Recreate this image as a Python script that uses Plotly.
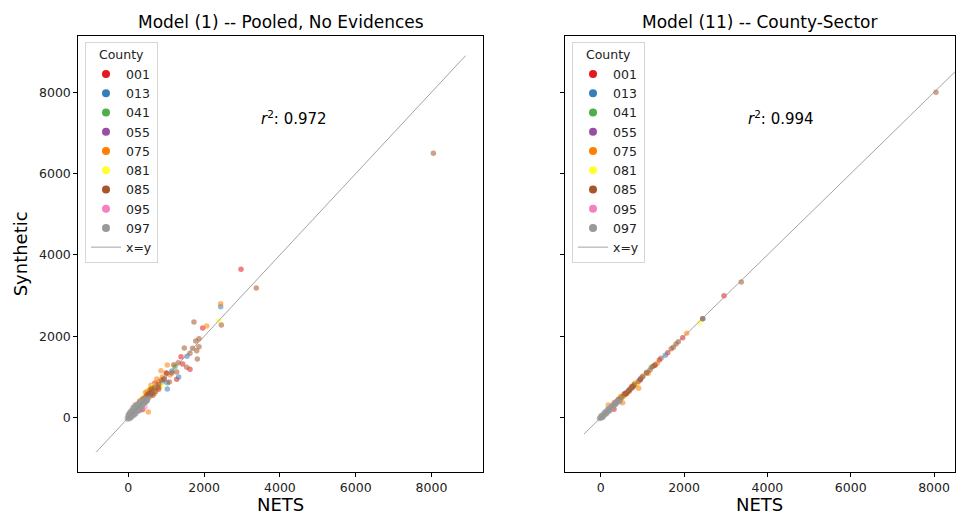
import plotly.graph_objects as go

counties = ["001", "013", "041", "055", "075", "081", "085", "095", "097"]
colors = ["#e41a1c", "#377eb8", "#4daf4a", "#984ea3", "#ff7f00", "#ffff33", "#a65628", "#f781bf", "#999999"]

# ---- Model (1): Pooled, No Evidences ----
m1_001_nets = [2974, 1963, 1391, 1435, 1628, 1013, 1277, 309, 600, 450, 800, 150, 700, 380]
m1_001_syn = [3648, 2205, 1500, 1320, 1190, 1091, 944, 393, 650, 380, 700, 250, 850, 200]
m1_013_nets = [2438, 1549, 1330, 1029, 1029, 300, 500, 650, 200, 900, 1150]
m1_013_syn = [2729, 1509, 1000, 860, 705, 180, 420, 600, 300, 880, 1150]
m1_041_nets = [1232, 400, 250, 700]
m1_041_syn = [1254, 450, 200, 720]
m1_055_nets = [942, 600, 300]
m1_055_syn = [959, 550, 330]
m1_075_nets = [2438, 2068, 1029, 863, 802, 528, 396, 600, 700, 450, 350, 550, 250, 750, 1100, 900, 650, 500,
               300, 420, 580, 820]
m1_075_syn = [2802, 2254, 1295, 1155, 885, 140, 477, 800, 600, 620, 300, 500, 350, 950, 1050, 1000, 700, 650,
              420, 380, 700, 760]
m1_081_nets = [2385, 660, 881, 550, 400]
m1_081_syn = [2385, 779, 804, 700, 500]
m1_085_nets = [8050, 3377, 2454, 1733, 1865, 1778, 1865, 1699, 1805, 1821, 1478, 1628, 1319, 1541, 1277,
               1082, 881, 792, 573, 485, 700, 600, 400, 350, 300, 250, 200, 650, 800, 950, 1150, 1000, 1200,
               500, 450, 550, 620, 720, 520, 380]
m1_085_syn = [6500, 3188, 2279, 2353, 1942, 1885, 1745, 1706, 1647, 1443, 1713, 1583, 1352, 1239, 1123,
              878, 927, 747, 681, 558, 750, 620, 420, 380, 280, 300, 220, 550, 820, 950, 1100, 1100, 1300,
              480, 500, 600, 720, 650, 560, 460]
m1_095_nets = [441, 200, 350]
m1_095_syn = [270, 150, 280]
m1_097_nets = [5, 15, 20, 30, 40, 50, 60, 70, 80, 90, 100, 110, 120, 130, 140, 150, 160, 170, 180, 190,
               200, 210, 220, 230, 240, 250, 260, 270, 280, 290, 300, 320, 340, 360, 380, 400, 420, 450,
               480, 30, 60, 100, 150, 200, 250, 10, 40, 300, 350, 120, 80, 180,
               50, 0, 100, 30, 150, 80, 200, 130, 250, 180, 300, 240, 350, 290, 400, 340, 450, 500, 520,
               -30, -10, 70, 0, 170, 100, 270, 200, 370, 300, 430, 470]
m1_097_syn = [10, -5, 30, 60, 20, 80, 40, 100, 60, 130, 90, 150, 100, 180, 120, 200, 140, 230, 170, 250,
              190, 280, 210, 300, 230, 320, 250, 340, 270, 360, 290, 380, 320, 410, 350, 440, 380, 470,
              420, 120, 150, 40, 60, 100, 150, 80, -20, 200, 250, 250, 180, 320,
              0, 50, 30, 100, 80, 150, 130, 200, 180, 250, 240, 300, 290, 350, 340, 400, 400, 450, 470,
              -10, -40, 0, 70, 100, 170, 200, 270, 300, 370, 360, 420]

# ---- Model (11): County-Sector ----
m11_001_nets = [2959, 1968, 1608, 1406, 1303, 943, 319, 600, 450, 750, 200]
m11_001_syn = [2999, 1967, 1598, 1418, 1295, 927, 206, 580, 430, 730, 190]
m11_013_nets = [2448, 1550, 967, 500, 700, 300, 1100]
m11_013_syn = [2434, 1534, 969, 490, 690, 290, 1090]
m11_041_nets = [1214, 400, 800]
m11_041_syn = [1239, 410, 790]
m11_055_nets = [600, 350]
m11_055_syn = [610, 340]
m11_075_nets = [2064, 1358, 1142, 1022, 864, 912, 528, 182, 302, 650, 450, 550, 750, 380, 250, 480, 620, 820,
                330]
m11_075_syn = [2075, 1337, 1091, 1025, 828, 723, 369, 312, 270, 640, 470, 530, 770, 360, 260, 520, 590, 850,
               380]
m11_081_nets = [2383, 870, 500]
m11_081_syn = [2335, 850, 520]
m11_085_nets = [8047, 3374, 2448, 1862, 1807, 1742, 1694, 1447, 1183, 744, 662, 583, 504, 1000, 900, 800,
                700, 620, 450, 400, 350, 300, 1300, 1250, 1100, 950, 560, 680, 780, 420]
m11_085_syn = [8000, 3336, 2434, 1868, 1812, 1731, 1696, 1460, 1173, 762, 664, 583, 516, 1010, 890, 810,
               705, 600, 440, 390, 360, 310, 1290, 1260, 1120, 940, 580, 650, 760, 450]
m11_095_nets = [300, 150]
m11_095_syn = [280, 140]
m11_097_nets = [0, 10, 20, 30, 40, 50, 60, 70, 80, 90, 100, 110, 120, 130, 140, 150, 160, 170, 180, 190,
                200, 210, 220, 230, 240, 250, 260, 280, 300, 320, 340, 360, 380, 400, 420, 440, -20, 20,
                60, 100, 140, 180, 220,
                -30, 50, 30, 120, 90, 200, 160, 280, 250, 350, 320, 430, 460, 0, 30]
m11_097_syn = [0, 20, 5, 40, 25, 60, 45, 80, 65, 100, 85, 120, 105, 140, 125, 160, 145, 180, 165, 200,
               185, 220, 205, 240, 225, 260, 245, 280, 290, 320, 330, 360, 370, 395, 410, 440, -10, 60,
               20, 140, 100, 220, 180,
               -20, 30, 50, 90, 120, 160, 200, 250, 280, 320, 350, 400, 390, 30, 0]

# x=y reference line extents and r^2 values
m1_line = [-850, 8900]
m11_line = [-400, 8900]
r2_values = ["0.972", "0.994"]
titles = ["Model (1) -- Pooled, No Evidences", "Model (11) -- County-Sector"]

m1_data = [(m1_001_nets, m1_001_syn), (m1_013_nets, m1_013_syn), (m1_041_nets, m1_041_syn),
           (m1_055_nets, m1_055_syn), (m1_075_nets, m1_075_syn), (m1_081_nets, m1_081_syn),
           (m1_085_nets, m1_085_syn), (m1_095_nets, m1_095_syn), (m1_097_nets, m1_097_syn)]
m11_data = [(m11_001_nets, m11_001_syn), (m11_013_nets, m11_013_syn), (m11_041_nets, m11_041_syn),
            (m11_055_nets, m11_055_syn), (m11_075_nets, m11_075_syn), (m11_081_nets, m11_081_syn),
            (m11_085_nets, m11_085_syn), (m11_095_nets, m11_095_syn), (m11_097_nets, m11_097_syn)]

FONT = "DejaVu Sans"
fig = go.Figure()

panels = [("x", "y", m1_data, m1_line, "legend"), ("x2", "y3", m11_data, m11_line, "legend2")]
for xa, ya, data, line, leg in panels:
    for c, col, (xs, ys) in zip(counties, colors, data):
        fig.add_trace(go.Scatter(x=xs, y=ys, mode="markers", xaxis=xa, yaxis=ya, showlegend=False,
                                 marker=dict(color=col, size=5.5, opacity=0.55, line=dict(width=0))))
    fig.add_trace(go.Scatter(x=line, y=line, mode="lines", xaxis=xa, yaxis=ya, showlegend=False,
                             line=dict(color="#8c8c8c", width=0.8)))
    # legend entries
    for c, col in zip(counties, colors):
        fig.add_trace(go.Scatter(x=[None], y=[None], mode="markers", xaxis=xa, yaxis=ya, name=c,
                                 legend=leg, marker=dict(color=col, size=8)))
    fig.add_trace(go.Scatter(x=[None], y=[None], mode="lines", xaxis=xa, yaxis=ya, name="x=y",
                             legend=leg, line=dict(color="#8c8c8c", width=0.8)))

W, H = 959, 516
ydom = [1 - 471.7 / H, 1 - 36 / H]
xdom1 = [78.3 / W, 483.3 / W]
xdom2 = [565 / W, 955 / W]
yrange = [-1327, 9383]

axis_common = dict(showline=True, linecolor="black", linewidth=1, mirror=True, ticks="outside",
                   ticklen=4, tickcolor="black", tickwidth=1, showgrid=False, zeroline=False,
                   tickfont=dict(family=FONT, size=12.5, color="#222"), tickvals=[0, 2000, 4000, 6000, 8000])

legend_common = dict(yanchor="top", xanchor="left", bgcolor="white", bordercolor="#d6d6d6", borderwidth=1,
                     font=dict(family=FONT, size=12.5, color="#222"),
                     title=dict(text="County", side="top center", font=dict(family=FONT, size=12.5, color="#222")))

fig.update_layout(
    width=W, height=H, margin=dict(l=0, r=0, t=0, b=0),
    paper_bgcolor="white", plot_bgcolor="white",
    xaxis=dict(domain=xdom1, range=[-1319, 9367], anchor="y", **axis_common),
    xaxis2=dict(domain=xdom2, range=[-857, 8503], anchor="y3", **axis_common),
    yaxis=dict(domain=ydom, range=yrange, anchor="x", **axis_common),
    yaxis3=dict(domain=ydom, range=yrange, anchor="x2", showticklabels=False, **axis_common),
    legend=dict(x=85 / W, y=1 - 42 / H, **legend_common),
    legend2=dict(x=572 / W, y=1 - 42 / H, **legend_common),
)

ann = []
for xc, t in zip([(xdom1[0] + xdom1[1]) / 2, (xdom2[0] + xdom2[1]) / 2], titles):
    ann.append(dict(text=t, x=xc, y=1 - 22 / H, xref="paper", yref="paper", showarrow=False,
                    xanchor="center", yanchor="middle", font=dict(family=FONT, size=17, color="black")))
    ann.append(dict(text="NETS", x=xc, y=1 - 504 / H, xref="paper", yref="paper", showarrow=False,
                    xanchor="center", yanchor="middle", font=dict(family=FONT, size=18, color="black")))
for xc, r in zip([293.7 / W, 780.5 / W], r2_values):
    ann.append(dict(text="<i>r</i><sup>2</sup>: " + r, x=xc, y=1 - 118.3 / H, xref="paper", yref="paper",
                    showarrow=False, xanchor="center", yanchor="middle",
                    font=dict(family=FONT, size=15, color="black")))
ann.append(dict(text="Synthetic", x=20.5 / W, y=(ydom[0] + ydom[1]) / 2, xref="paper", yref="paper",
                showarrow=False, textangle=-90, xanchor="center", yanchor="middle",
                font=dict(family=FONT, size=18, color="black")))
fig.update_layout(annotations=ann)

fig.write_html("out.html", config={"displayModeBar": False},
               post_script="document.body.style.margin='0';")
